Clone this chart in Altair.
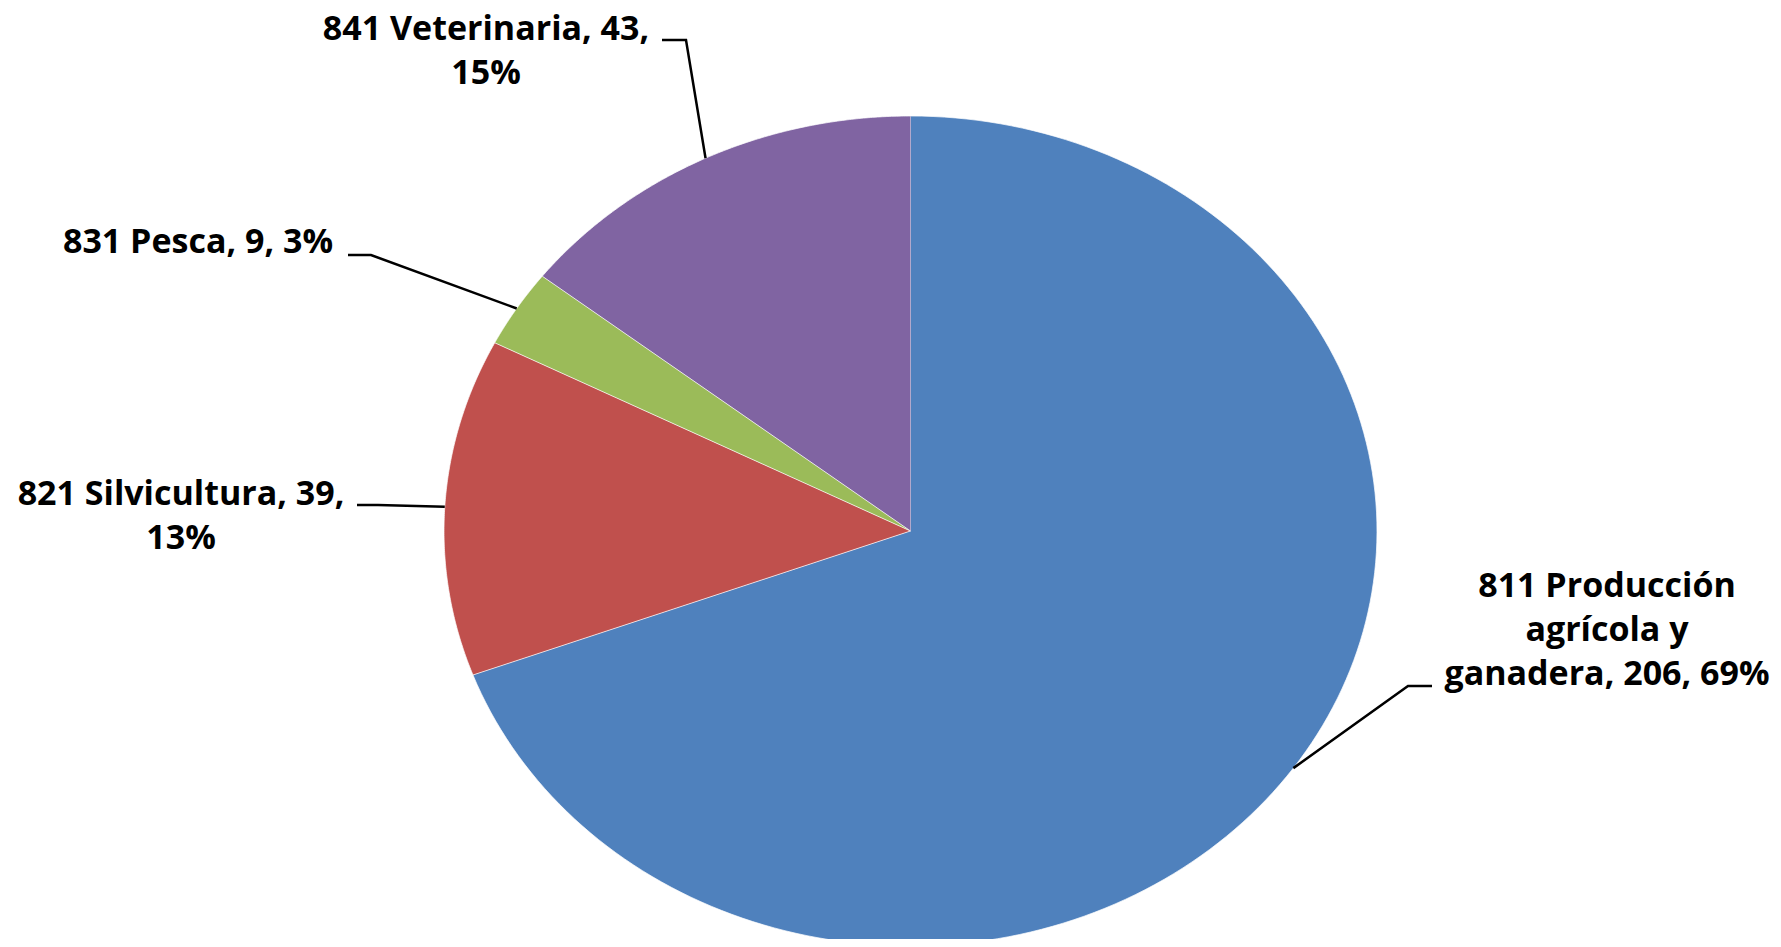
import altair as alt
import pandas as pd

# ---- data ----
categories = ["811 Producción agrícola y ganadera", "821 Silvicultura", "831 Pesca", "841 Veterinaria"]
values = [206, 39, 9, 43]
percent_labels = ["69%", "13%", "3%", "15%"]
label_lines = [
    ["811 Producción", "agrícola y", "ganadera, 206, 69%"],
    ["821 Silvicultura, 39,", "13%"],
    ["831 Pesca, 9, 3%"],
    ["841 Veterinaria, 43,", "15%"],
]
colors = ["#4F81BD", "#C0504D", "#9BBB59", "#8064A2"]

# ---- layout (chart pixel coordinates) ----
W, H = 1765, 931
CX, CY, RX, RY = 902.5, 523.0, 466.5, 415.0
# centre x and middle of the first line of each label
label_xy = [(1599, 579), (173, 487), (190, 235), (478, 22)]
elbow_xy = [(1400, 678), (370, 497), (363, 247), (678, 32)]
end_xy = [(1424, 678), (349, 497), (340, 247), (654, 32)]


def ux(X):
    return (X - CX) / RX


def uy(Y):
    return (CY - Y) / RY


df = pd.DataFrame({
    "cat": categories,
    "value": values,
    "order": list(range(len(categories))),
    "ex": [ux(p[0]) for p in elbow_xy],
    "ey": [uy(p[1]) for p in elbow_xy],
    "lx": [ux(p[0]) for p in end_xy],
    "ly": [uy(p[1]) for p in end_xy],
})

labels_df = pd.DataFrame({
    "cat": categories,
    "text": label_lines,
    "x": [ux(p[0]) for p in label_xy],
    "y": [uy(p[1]) for p in label_xy],
})

xs = alt.Scale(domain=[-1, 1], range=[CX - RX, CX + RX], zero=False, nice=False)
ys = alt.Scale(domain=[-1, 1], range=[CY + RY, CY - RY], zero=False, nice=False)
color_scale = alt.Scale(domain=categories, range=colors)

base = alt.Chart(df).transform_joinaggregate(
    total="sum(value)"
).transform_window(
    cum="sum(value)", sort=[alt.SortField("order")], frame=[None, 0]
).transform_calculate(
    start="(datum.cum - datum.value) / datum.total",
    end="datum.cum / datum.total",
)

N = 180
pie = base.transform_calculate(
    steps=f"sequence(-1, {N + 1})"
).transform_flatten(
    ["steps"], as_=["t"]
).transform_calculate(
    theta=f"2 * PI * (datum.start + (datum.end - datum.start) * datum.t / {N})"
).transform_calculate(
    px="datum.t < 0 ? 0 : sin(datum.theta)",
    py="datum.t < 0 ? 0 : cos(datum.theta)",
).mark_line(stroke="white", strokeWidth=1, strokeOpacity=0.7, strokeJoin="round").encode(
    x=alt.X("px:Q", scale=xs, axis=None),
    y=alt.Y("py:Q", scale=ys, axis=None),
    fill=alt.Fill("cat:N", scale=color_scale, legend=None),
    detail="cat:N",
    order=alt.Order("t:Q"),
)

leaders = base.transform_calculate(
    mid="2 * PI * (datum.start + datum.end) / 2",
    pts="sequence(0, 3)",
).transform_flatten(
    ["pts"], as_=["i"]
).transform_calculate(
    px="datum.i == 0 ? sin(datum.mid) : (datum.i == 1 ? datum.ex : datum.lx)",
    py="datum.i == 0 ? cos(datum.mid) : (datum.i == 1 ? datum.ey : datum.ly)",
).mark_line(color="black", strokeWidth=2.5).encode(
    x=alt.X("px:Q", scale=xs, axis=None),
    y=alt.Y("py:Q", scale=ys, axis=None),
    detail="cat:N",
    order=alt.Order("i:Q"),
)

text = alt.Chart(labels_df).mark_text(
    font="Open Sans", fontSize=34, fontWeight="bold", color="black",
    align="center", baseline="middle", lineHeight=44,
).encode(
    x=alt.X("x:Q", scale=xs, axis=None),
    y=alt.Y("y:Q", scale=ys, axis=None),
    text="text",
)

chart = alt.layer(pie, leaders, text).properties(
    width=W, height=H, padding=0, autosize=alt.AutoSizeParams(type="none")
).configure_view(stroke=None)

chart.save("out.html", embed_options={"renderer": "svg", "actions": False})
